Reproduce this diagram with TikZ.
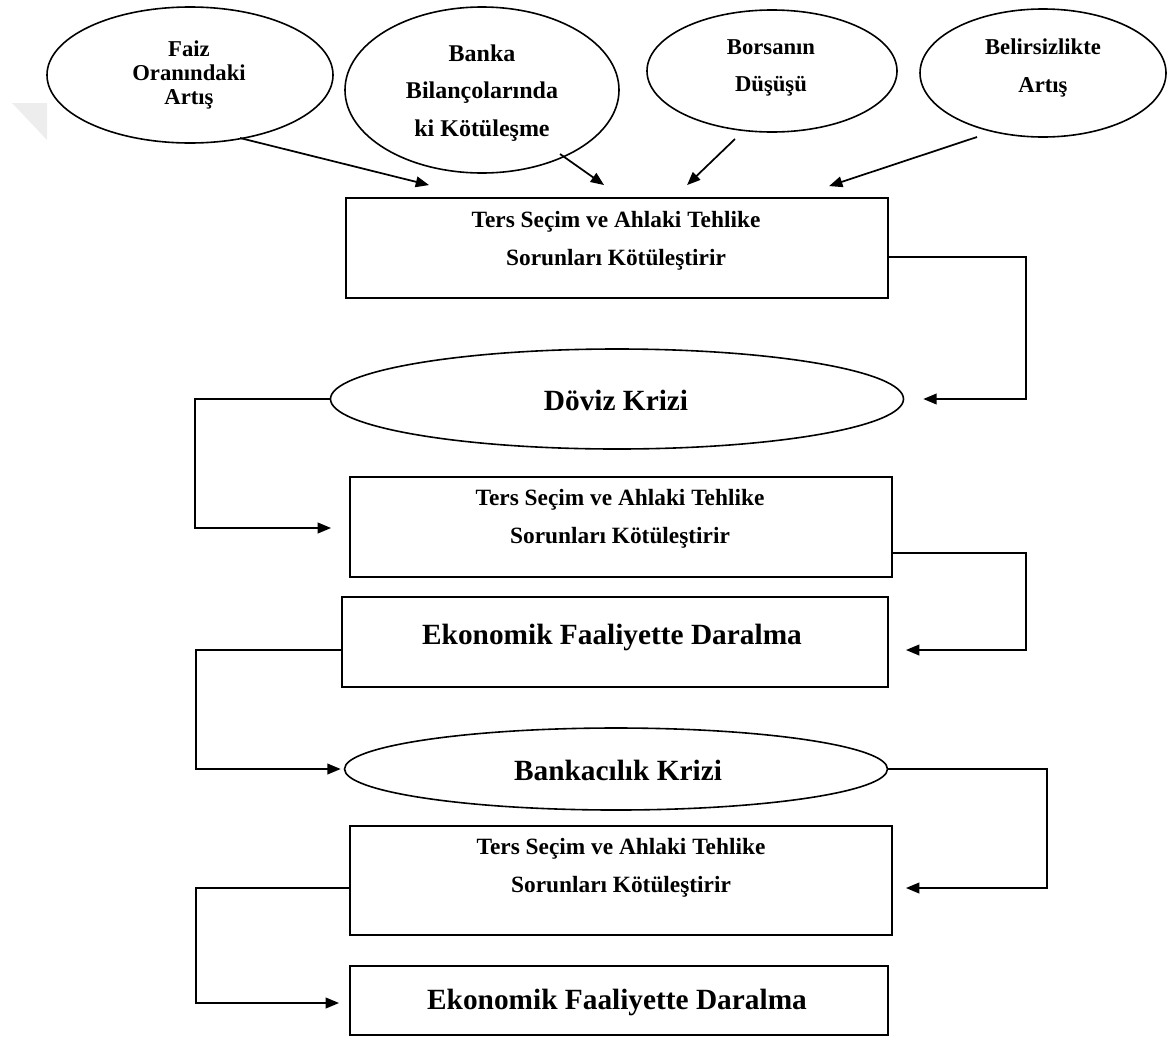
\documentclass[tikz,border=0pt]{standalone}
\usepackage{fontspec}
\setmainfont{Liberation Serif}
\usetikzlibrary{arrows.meta,shapes.geometric,calc}
\newcommand\pxu{0.75pt}
\tikzset{
  ln/.style={line width=1.3pt, draw=black},
  arr/.style={ln, -{Triangle[length=10pt,width=8pt]}},
  boxnode/.style={draw=black, line width=1.4pt, rectangle, inner sep=0pt},
  ellnode/.style={draw=black, line width=1.2pt, ellipse, inner sep=0pt},
  smalltxt/.style={align=center, inner sep=0pt, font=\bfseries\fontsize{17.5pt}{28.5pt}\selectfont},
  bigtxt/.style={inner sep=0pt, font=\bfseries\fontsize{22pt}{26pt}\selectfont},
}
\begin{document}
\begin{tikzpicture}[x=0.75pt,y=-0.75pt]
\useasboundingbox (0,0) rectangle (1173,1039);
% faint watermark fragment
\fill[gray!14] (12,103) -- (47,103) -- (47,140) -- cycle;

% top ellipses
\node[ellnode, minimum width=286*\pxu, minimum height=136*\pxu] (e1) at (190,75) {};
\node[ellnode, minimum width=274*\pxu, minimum height=166*\pxu] (e2) at (482,90) {};
\node[ellnode, minimum width=250*\pxu, minimum height=122*\pxu] (e3) at (772,71) {};
\node[ellnode, minimum width=246*\pxu, minimum height=128*\pxu] (e4) at (1043,73) {};
\node[align=center, inner sep=0pt, font=\bfseries\fontsize{17pt}{18pt}\selectfont] (t1) at (189,75) {Faiz\\Oranındaki\\Artış};
\node[align=center, inner sep=0pt, font=\bfseries\fontsize{18pt}{28pt}\selectfont] (t2) at (482,93) {Banka\\Bilançolarında\\ki Kötüleşme};
\node[align=center, inner sep=0pt, font=\bfseries\fontsize{17pt}{28pt}\selectfont] (t3) at (771,68) {Borsanın\\Düşüşü};
\node[align=center, inner sep=0pt, font=\bfseries\fontsize{17pt}{28pt}\selectfont] (t4) at (1043,68) {Belirsizlikte\\Artış};

% boxes and crisis ellipses
\node[boxnode, minimum width=542*\pxu, minimum height=100*\pxu] (b1) at (617,248) {};
\node[smalltxt] (b1t) at (616,241) {Ters Seçim ve Ahlaki Tehlike\\Sorunları Kötüleştirir};

\node[ellnode, minimum width=573*\pxu, minimum height=100*\pxu] (dv) at (617,399) {};
\node[bigtxt] (dvt) at (616,400) {Döviz Krizi};

\node[boxnode, minimum width=542*\pxu, minimum height=100*\pxu] (b2) at (621,527) {};
\node[smalltxt] (b2t) at (620,519) {Ters Seçim ve Ahlaki Tehlike\\Sorunları Kötüleştirir};

\node[boxnode, minimum width=546*\pxu, minimum height=90*\pxu] (b3) at (615,642) {};
\node[bigtxt] (b3t) at (612,637) {Ekonomik Faaliyette Daralma};

\node[ellnode, minimum width=543*\pxu, minimum height=82*\pxu] (bk) at (616,769) {};
\node[bigtxt] (bkt) at (618,770) {Bankacılık Krizi};

\node[boxnode, minimum width=542*\pxu, minimum height=109*\pxu] (b4) at (621,880.5) {};
\node[smalltxt] (b4t) at (621,868) {Ters Seçim ve Ahlaki Tehlike\\Sorunları Kötüleştirir};

\node[boxnode, minimum width=538*\pxu, minimum height=69*\pxu] (b5) at (619,1000.5) {};
\node[bigtxt] (b5t) at (617,1002) {Ekonomik Faaliyette Daralma};

% free ends of the top arrows
\coordinate (a1s) at (240,138);
\coordinate (a2s) at (560,154);
\coordinate (a3s) at (735,139);
\coordinate (a4s) at (977,137);
\coordinate (a1e) at ($(b1.north west)+(84,-12)$);
\coordinate (a2e) at ($(b1.north west)+(259,-12)$);
\coordinate (a3e) at ($(b1.north west)+(342,-12)$);
\coordinate (a4e) at ($(b1.north west)+(484,-11)$);
\draw[arr] (a1s) -- (a1e);
\draw[arr] (a2s) -- (a2e);
\draw[arr] (a3s) -- (a3e);
\draw[arr] (a4s) -- (a4e);

% elbow connectors
\draw[arr] ($(b1.east)+(0,9)$) -- ++(137,0) |- ($(dv.east)+(19,0)$);
\draw[arr] (dv.west) -- ++(-135,0) |- ($(b2.west)+(-18,1)$);
\draw[arr] ($(b2.east)+(0,26)$) -- ++(133,0) |- ($(b3.east)+(17,8)$);
\draw[arr] ($(b3.west)+(0,8)$) -- ++(-145,0) |- ($(bk.west)+(-3,0)$);
\draw[arr] (bk.east) -- ++(159,0) |- ($(b4.east)+(13,7.5)$);
\draw[arr] ($(b4.west)+(0,7.5)$) -- ++(-153,0) |- ($(b5.west)+(-10,2.5)$);
\end{tikzpicture}
\end{document}
